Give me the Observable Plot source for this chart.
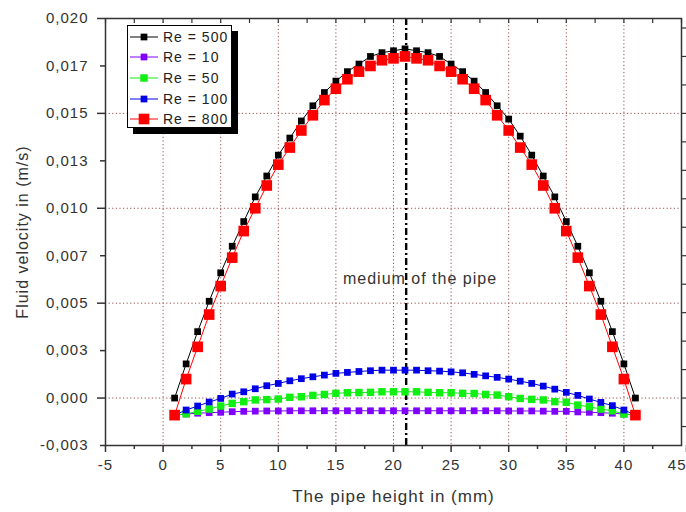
<!DOCTYPE html>
<html><head><meta charset="utf-8">
<script src="https://cdn.jsdelivr.net/npm/d3@7"></script>
<script src="https://cdn.jsdelivr.net/npm/@observablehq/plot@0.6"></script>
<style>
body{margin:0;background:#fff;}
#wrap{position:relative;width:686px;height:512px;font-family:"Liberation Sans",Arial,sans-serif;}
#legend{position:absolute;left:127px;top:25px;width:105px;height:103px;box-sizing:border-box;border:1px solid #000;background:#fff;box-shadow:6px 6px 0 #000;}
.row{position:absolute;left:0;height:20px;display:flex;align-items:center;}
.row span{font-size:14px;letter-spacing:1px;color:#222;margin-left:3px;white-space:nowrap;}
.row svg{display:block}
</style></head>
<body><div id="wrap"><div id="legend"></div></div>
<script>
// ---- data ----
const xPos = [1,2,3,4,5,6,7,8,9,10,11,12,13,14,15,16,17,18,19,20,21,22,23,24,25,26,27,28,29,30,31,32,33,34,35,36,37,38,39,40,41];
const re500 = [0.0000,0.0018,0.0035,0.0051,0.0066,0.0080,0.0093,0.0106,0.0117,0.0128,0.0137,0.0146,0.0154,0.0161,0.0167,0.0172,0.0176,0.0180,0.0182,0.0183,0.0184,0.0183,0.0182,0.0180,0.0176,0.0172,0.0167,0.0161,0.0154,0.0147,0.0138,0.0128,0.0117,0.0106,0.0093,0.0080,0.0066,0.0051,0.0035,0.0018,0.0000];
const re10 = [-0.0009,-0.00084,-0.0008,-0.00077,-0.00075,-0.00072,-0.0007,-0.00069,-0.00068,-0.00068,-0.00067,-0.00067,-0.00067,-0.00067,-0.00067,-0.00067,-0.00067,-0.00067,-0.00067,-0.00067,-0.00067,-0.00067,-0.00067,-0.00067,-0.00067,-0.00067,-0.00067,-0.00067,-0.00067,-0.00068,-0.00068,-0.00068,-0.00069,-0.0007,-0.0007,-0.00073,-0.00075,-0.00077,-0.0008,-0.00084,-0.0009];
const re50 = [-0.0009,-0.00083,-0.0007,-0.00058,-0.00042,-0.00028,-0.00019,-0.0001,-0.00008,-0.00005,0.00004,0.00007,0.00014,0.00019,0.00025,0.00028,0.00029,0.0003,0.00033,0.00033,0.00033,0.00033,0.0003,0.00028,0.00028,0.00025,0.00024,0.00019,0.00016,0.00007,-0.00002,-0.00007,-0.0001,-0.00019,-0.00022,-0.00037,-0.00046,-0.00058,-0.00067,-0.00084,-0.0009];
const re100 = [-0.0009,-0.00063,-0.00042,-0.00021,-0.00002,0.00021,0.00033,0.00049,0.00065,0.00077,0.00091,0.00102,0.00112,0.00121,0.0013,0.00135,0.0014,0.00144,0.00147,0.00147,0.00147,0.00147,0.00144,0.00142,0.00138,0.00133,0.00125,0.00117,0.00109,0.001,0.00089,0.00077,0.00063,0.00047,0.0003,0.00014,-0.00005,-0.00023,-0.0004,-0.00063,-0.0009];
const re800 = [-0.0009,0.0010,0.0027,0.0044,0.0059,0.0074,0.0088,0.0100,0.0112,0.0123,0.0132,0.0141,0.0149,0.0157,0.0163,0.0168,0.0172,0.0175,0.0178,0.0179,0.0180,0.0179,0.0178,0.0175,0.0172,0.0168,0.0163,0.0157,0.0149,0.0141,0.0132,0.0123,0.0112,0.0100,0.0088,0.0074,0.0059,0.0044,0.0027,0.0010,-0.0009];
const seriesNames = ["Re = 500","Re = 10","Re = 50","Re = 100","Re = 800"];
const seriesValues = [re500, re10, re50, re100, re800];

const xTicks = [-5,0,5,10,15,20,25,30,35,40,45];
const xTickLabels = ["-5","0","5","10","15","20","25","30","35","40","45"];
const xMinorTicks = [-2.5,2.5,7.5,12.5,17.5,22.5,27.5,32.5,37.5,42.5];
const yTicks = [-0.0025,0,0.0025,0.005,0.0075,0.01,0.0125,0.015,0.0175,0.02];
const yTickLabels = ["-0,003","0,000","0,003","0,005","0,007","0,010","0,013","0,015","0,017","0,020"];
const yRightTicks = [-0.0015,0,0.0015,0.003,0.0045,0.006,0.0075,0.009,0.0105,0.012,0.0135,0.015,0.0165,0.018,0.0195];
const xGrid = [0,5,10,15,20,25,30,35,40];
const yGrid = [0,0.005,0.01,0.015];
const midLineX = 21.1;
const annotation = {x: 22.3, y: 0.0063, text: "medium of the pipe"};
const xTitle = "The pipe height in (mm)";
const yTitle = "Fluid velocity in (m/s)";

// ---- styles ----
const colors = ["#000000","#8000ff","#11ee11","#0000e6","#ff0000"];
const radii = [3.8,3.8,4.2,3.8,6.0];

const xLab = new Map(xTicks.map((d,i)=>[d,xTickLabels[i]]));
const yLab = new Map(yTicks.map((d,i)=>[d,yTickLabels[i]]));
const yLong = yTicks.filter((d,i)=>i%2===1);
const yShort = yTicks.filter((d,i)=>i%2===0);
const xInner = xTicks.slice(0,-1);
const xLast = xTicks.slice(-1);

const seriesMarks = seriesNames.flatMap((name,k)=>{
  const rows = xPos.map((x,i)=>({x, y: seriesValues[k][i]}));
  return [
    Plot.line(rows,{x:"x",y:"y",stroke:colors[k],strokeWidth:1}),
    Plot.dot(rows,{x:"x",y:"y",symbol:"square",r:radii[k],fill:colors[k],stroke:"none"})
  ];
});

const blank = () => "";
const chart = Plot.plot({
  width:686, height:512,
  marginLeft:105, marginRight:5, marginTop:18, marginBottom:67,
  x:{domain:[-5,45]},
  y:{domain:[-0.0025,0.02]},
  style:{fontFamily:"'Liberation Sans',Arial,sans-serif",fontSize:"15px",color:"#333",letterSpacing:"1px",background:"transparent"},
  marks:[
    Plot.ruleX(xGrid,{stroke:"#9b4d4d",strokeDasharray:"1.2,2.4",strokeWidth:1}),
    Plot.ruleY(yGrid,{stroke:"#9b4d4d",strokeDasharray:"1.2,2.4",strokeWidth:1}),
    Plot.ruleX([midLineX],{stroke:"#000",strokeWidth:2.4,strokeDasharray:"7,3,2,3"}),
    Plot.text([annotation],{x:"x",y:"y",text:"text",fontSize:16,fill:"#333",letterSpacing:"2px"}),
    ...seriesMarks,
    Plot.frame({stroke:"#333",strokeWidth:1.5}),
    Plot.axisX({ticks:xInner,tickSize:7,tickPadding:7,tickFormat:d=>xLab.get(d),label:null,stroke:"#333",strokeWidth:1.5}),
    Plot.axisX({ticks:xLast,tickSize:7,tickPadding:7,tickFormat:d=>xLab.get(d),textAnchor:"end",dx:5,label:null,stroke:"#333",strokeWidth:1.5}),
    Plot.axisX({ticks:xMinorTicks,tickSize:4,tickFormat:blank,label:null,stroke:"#333",strokeWidth:1.5}),
    Plot.axisX({anchor:"top",ticks:[...xTicks,...xMinorTicks],tickSize:-4,tickFormat:blank,label:null,stroke:"#333",strokeWidth:1.2}),
    Plot.axisY({ticks:yTicks,tickSize:0,tickPadding:17,tickFormat:d=>yLab.get(d),label:null}),
    Plot.axisY({ticks:yLong,tickSize:8,tickFormat:blank,label:null,stroke:"#333",strokeWidth:1.5}),
    Plot.axisY({ticks:yShort,tickSize:5,tickFormat:blank,label:null,stroke:"#333",strokeWidth:1.5}),
    Plot.axisY({anchor:"right",ticks:yRightTicks,tickSize:5,tickFormat:blank,label:null,stroke:"#333",strokeWidth:1.2}),
    Plot.text([xTitle],{frameAnchor:"bottom",dy:56,text:d=>d,fontSize:17,fill:"#333",letterSpacing:"1.4px"}),
    Plot.text([yTitle],{frameAnchor:"left",textAnchor:"middle",dx:-83,rotate:-90,text:d=>d,fontSize:16,fill:"#333",letterSpacing:"1.4px"})
  ]
});
document.getElementById("wrap").prepend(chart);

// ---- legend ----
const legend = document.getElementById("legend");
const rowCenters = [10.7,31.4,52,72.7,93.3];
seriesNames.forEach((name,k)=>{
  const row = document.createElement("div");
  row.className="row";
  row.style.top = (rowCenters[k]-10)+"px";
  const s = Math.sqrt(Math.PI)*radii[k];
  row.innerHTML = `<svg width="32" height="20"><line x1="2" x2="30" y1="10" y2="10" stroke="${colors[k]}" stroke-width="1"/><rect x="${16-s/2}" y="${10-s/2}" width="${s}" height="${s}" fill="${colors[k]}"/></svg><span>${name}</span>`;
  legend.appendChild(row);
});
</script>
</body></html>
